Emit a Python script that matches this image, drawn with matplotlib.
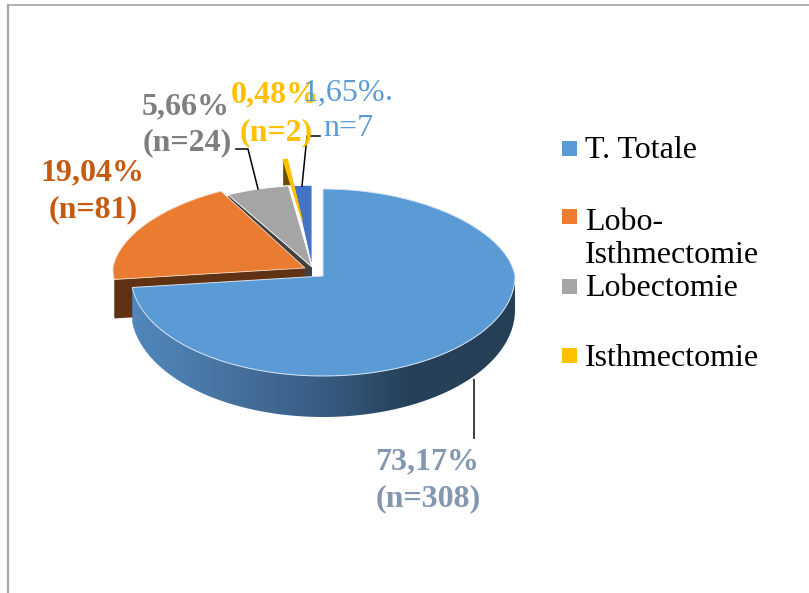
import numpy as np
import matplotlib
matplotlib.use('Agg')
import matplotlib.pyplot as plt
from matplotlib.colors import LinearSegmentedColormap
from matplotlib.patches import Polygon, Rectangle

plt.rcParams['font.family'] = ['Liberation Serif', 'DejaVu Serif']

# data
categories = ['T. Totale', 'Lobo-\nIsthmectomie', 'Lobectomie', 'Isthmectomie', '']
shares = [73.17, 19.04, 5.66, 0.48, 1.65]
pct_labels = ['73,17%', '19,04%', '5,66%', '0,48%', '1,65%']
n_labels = ['(n=308)', '(n=81)', '(n=24)', '(n=2)', 'n=7']

# slice colours, side colours
colors = ['#5b9bd5', '#ea7c31', '#a5a5a5', '#ffc000', '#4472c4']
side_colors = [None, '#5f3214', '#404040', '#6a4f00', '#264478']
label_colors = ['#8497b0', '#c55a11', '#7f7f7f', '#ffc000', '#5b9bd5']

# apex of each exploded slice (pixels) and its radius scales
apex = [(323, 276), (305, 268), (312, 267), (302, 220), (312, 267)]
scale_x = [1.0, 1.0, 1.0, 0.80, 1.0]
scale_y = [1.0, 1.0, 0.94, 0.70, 0.94]
RX, RY_BACK, RY_FRONT = 192, 87, 100
PERSP = 0.08  # back of the pie is a bit narrower


def rim(i, t):
    # t in degrees clockwise from 12 o'clock
    t = np.radians(t)
    c = np.cos(t)
    ry = np.where(c > 0, RY_BACK, RY_FRONT) * scale_y[i]
    rx = RX * scale_x[i] * (1 - PERSP * np.maximum(0, c))
    return apex[i][0] + rx * np.sin(t), apex[i][1] - ry * c


def top_poly(i, a, b):
    t = np.linspace(a, b, 200)
    x, y = rim(i, t)
    return np.vstack([[apex[i]], np.column_stack([x, y])])


def cut_face(i, t, depth):
    x, y = rim(i, t)
    ax_, ay_ = apex[i]
    return [(ax_, ay_), (x, y), (x, y + depth), (ax_, ay_ + depth)]


fig = plt.figure(figsize=(8.09, 5.93), dpi=100)
ax = fig.add_axes([0, 0, 1, 1])

edges = np.concatenate([[0], np.cumsum(shares)]) * 3.6

# yellow slice side sticks up behind the others
x0, y0 = rim(3, edges[3])
ax.add_patch(Polygon([(x0, y0), (x0, y0 + 26),
                      (x0 + 0.42 * (apex[3][0] - x0), y0 + 0.42 * (apex[3][1] - y0))],
                     fc=side_colors[3], ec='none', zorder=2))

# small blue and grey
ax.add_patch(Polygon(top_poly(4, edges[4], edges[5]), fc=colors[4], ec='white', lw=0.6, zorder=3))
ax.add_patch(Polygon(cut_face(2, edges[2], 33), fc=side_colors[2], ec='none', zorder=2))
ax.add_patch(Polygon(top_poly(2, edges[2], edges[3]), fc=colors[2], ec='white', lw=0.6, zorder=3))
ax.add_patch(Polygon(top_poly(3, edges[3], edges[4]), fc=colors[3], ec=colors[3], lw=1.0, zorder=4))

# orange
ax.add_patch(Polygon(cut_face(1, edges[1], 39), fc=side_colors[1], ec='none', zorder=5))
ax.add_patch(Polygon(top_poly(1, edges[1], edges[2]), fc=colors[1], ec='#f3d9c6', lw=0.6, zorder=6))

# big blue side with horizontal gradient
t = np.linspace(90, edges[1], 300)
xr, yr = rim(0, t)
depth = 34 + 7 * np.maximum(0, -np.cos(np.radians(t)))
side = Polygon(np.vstack([np.column_stack([xr, yr]),
                          np.column_stack([xr, yr + depth])[::-1]]),
               fc='none', ec='none', transform=ax.transData)
ax.add_patch(side)
cmap = LinearSegmentedColormap.from_list('side', [(0, '#5287bd'), (0.18, '#4a79a8'), (0.5, '#375c82'),
                                                  (0.72, '#264159'), (1, '#243f56')])
im = ax.imshow(np.linspace(0, 1, 256)[None, :], cmap=cmap, aspect='auto',
               extent=(130, 518, 420, 280), zorder=7)
im.set_clip_path(side)
ax.add_patch(Polygon(top_poly(0, edges[0], edges[1]), fc=colors[0], ec='#d5e3f1', lw=0.7, zorder=8))

# leader lines
ax.plot([236, 248, 258], [149, 149, 189], color='black', lw=1.1, zorder=9)
ax.plot([320, 307, 302], [136, 136, 186], color='black', lw=1.1, zorder=9)
ax.plot([474, 474], [380, 438], color='#404040', lw=1.4, zorder=9)

# data labels
FS = 23
pct_pos = [(427, 462), (93, 173), (186, 107), (275, 95), (344, 93)]
n_pos = [(428, 499), (93, 210), (187, 143), (276, 133), (348, 129)]
for i in [0, 1, 2, 3, 4]:
    w = 'normal' if i == 4 else 'bold'
    ax.text(*pct_pos[i], pct_labels[i], color=label_colors[i], fontsize=FS, fontweight=w,
            ha='center', va='center', zorder=10)
    ax.text(*n_pos[i], n_labels[i], color=label_colors[i], fontsize=FS, fontweight=w,
            ha='center', va='center', zorder=10)
ax.text(389, 93, '.', color=label_colors[4], fontsize=FS, ha='center', va='center', zorder=10)

# legend
leg_y = [148, 216, 286, 355]
txt_y = [151, 239, 289, 358]
leg_colors = [colors[0], '#ed7d31', colors[2], colors[3]]
for i in range(4):
    ax.add_patch(Rectangle((562, leg_y[i] - 7.5), 15, 15, fc=leg_colors[i], ec='none'))
    ax.text(585, txt_y[i], categories[i], fontsize=23, color='black', ha='left', va='center',
            linespacing=1.15)

# frame of the original picture
ax.plot([8, 8], [593, 5], color='#a6a6a6', lw=1.6)
ax.plot([8, 809], [5, 5], color='#a6a6a6', lw=1.2)

ax.set_xlim(0, 809)
ax.set_ylim(593, 0)
ax.axis('off')
fig.savefig('out.png', dpi=100)
